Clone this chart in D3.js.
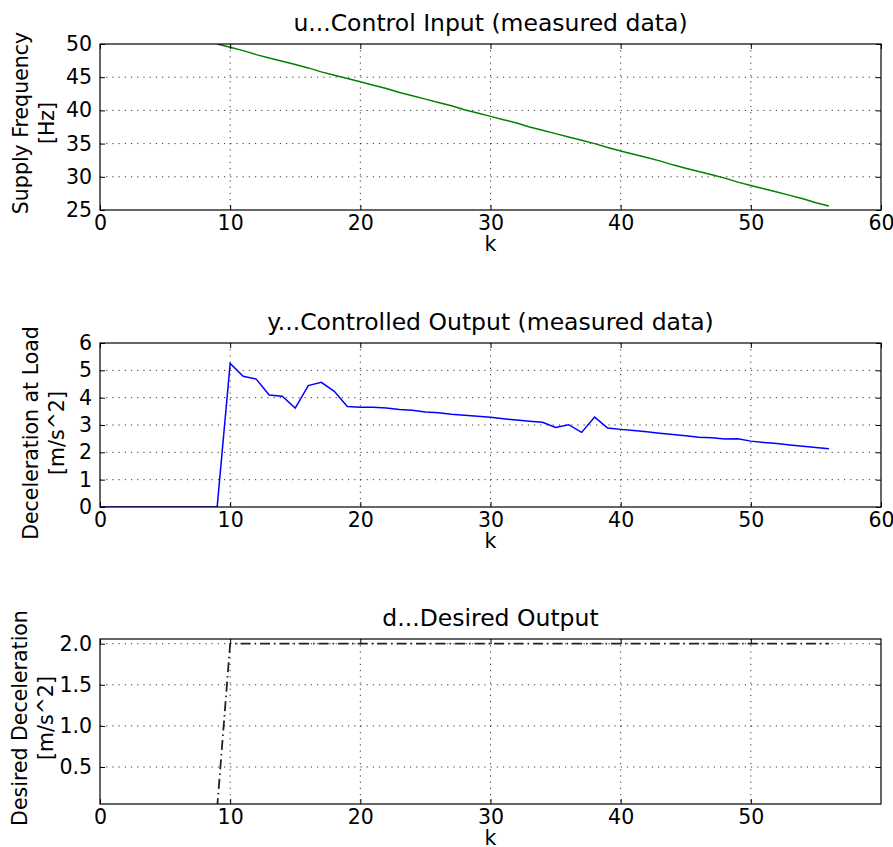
<!DOCTYPE html>
<html>
<head>
<meta charset="utf-8">
<script src="https://cdn.jsdelivr.net/npm/d3@7"></script>
<style>
  body { margin: 0; background: #fff; }
  svg text { font-family: "DejaVu Sans", sans-serif; fill: #000; }
</style>
</head>
<body>
<svg id="chart" width="893" height="847"></svg>
<script>
// k index of the measured samples
var kInput = d3.range(9, 57);
var kOutput = d3.range(0, 57);

// u ... supply frequency [Hz]
var supplyFreq = [50.0, 49.5, 49.0, 48.4, 47.9, 47.4, 46.9, 46.4, 45.8, 45.3,
  44.8, 44.3, 43.8, 43.3, 42.7, 42.2, 41.7, 41.2, 40.7, 40.1,
  39.6, 39.1, 38.6, 38.1, 37.5, 37.0, 36.5, 36.0, 35.5, 35.0,
  34.4, 33.9, 33.4, 32.9, 32.4, 31.8, 31.3, 30.8, 30.3, 29.8,
  29.2, 28.7, 28.2, 27.7, 27.2, 26.7, 26.1, 25.6];

// y ... measured deceleration at load [m/s^2]
var decelLoad = [0, 0, 0, 0, 0, 0, 0, 0, 0, 0,
  5.25, 4.78, 4.68, 4.10, 4.05, 3.62, 4.44, 4.56, 4.23, 3.68,
  3.65, 3.65, 3.62, 3.57, 3.54, 3.48, 3.45, 3.39, 3.36, 3.32,
  3.28, 3.23, 3.18, 3.14, 3.10, 2.91, 3.01, 2.73, 3.29, 2.89,
  2.84, 2.80, 2.75, 2.70, 2.65, 2.61, 2.55, 2.53, 2.49, 2.50,
  2.41, 2.36, 2.32, 2.27, 2.22, 2.18, 2.13];

// d ... desired deceleration [m/s^2]
var decelDesired = [0, 0, 0, 0, 0, 0, 0, 0, 0, 0,
  2, 2, 2, 2, 2, 2, 2, 2, 2, 2,
  2, 2, 2, 2, 2, 2, 2, 2, 2, 2,
  2, 2, 2, 2, 2, 2, 2, 2, 2, 2,
  2, 2, 2, 2, 2, 2, 2, 2, 2, 2,
  2, 2, 2, 2, 2, 2, 2];

var titles = ["u...Control Input (measured data)",
  "y...Controlled Output (measured data)",
  "d...Desired Output"];
var yLabels = [["Supply Frequency", "[Hz]"],
  ["Deceleration at Load", "[m/s^2]"],
  ["Desired Deceleration", "[m/s^2]"]];
var xTicksFull = [0, 10, 20, 30, 40, 50, 60];
var xTicksShort = [0, 10, 20, 30, 40, 50];
var yTicksU = [25, 30, 35, 40, 45, 50];
var yTicksY = [0, 1, 2, 3, 4, 5, 6];
var yTicksD = [0.5, 1.0, 1.5, 2.0];

var svg = d3.select("#chart");
var left = 100, right = 881;
var fontSize = 20.5;

function drawPanel(p) {
  var x = d3.scaleLinear().domain([0, 60]).range([left, right]);
  var y = d3.scaleLinear().domain(p.yDomain).range([p.bottom, p.top]);
  var g = svg.append("g");

  // clip for the line
  g.append("clipPath").attr("id", "clip" + p.id)
    .append("rect")
    .attr("x", left).attr("y", p.top)
    .attr("width", right - left).attr("height", p.bottom - p.top);

  // dotted grid
  g.append("g").selectAll("line").data(p.xTicks.filter(function (t) { return t > 0 && t < 60; }))
    .enter().append("line")
    .attr("x1", function (d) { return x(d); }).attr("x2", function (d) { return x(d); })
    .attr("y1", p.top).attr("y2", p.bottom)
    .attr("stroke", "#000").attr("stroke-width", 0.8).attr("stroke-dasharray", "1.2,5");
  g.append("g").selectAll("line").data(p.yTicks.filter(function (t) { return t > p.yDomain[0] && t < p.yDomain[1] - 0.01 || p.gridTop && t == p.yDomain[1]; }))
    .enter().append("line")
    .attr("y1", function (d) { return y(d); }).attr("y2", function (d) { return y(d); })
    .attr("x1", left).attr("x2", right)
    .attr("stroke", "#000").attr("stroke-width", 0.8).attr("stroke-dasharray", "1.2,5");

  // data line
  var line = d3.line()
    .x(function (d, i) { return x(p.k[i]); })
    .y(function (d) { return y(d); });
  g.append("path").datum(p.values)
    .attr("clip-path", "url(#clip" + p.id + ")")
    .attr("d", line)
    .attr("fill", "none")
    .attr("stroke", p.color)
    .attr("stroke-width", p.width || 1.5)
    .attr("stroke-dasharray", p.dash || null);

  // axes with inward ticks on all four sides
  var fmt = p.yFormat || d3.format("d");
  g.append("g").attr("transform", "translate(0," + p.bottom + ")")
    .call(d3.axisBottom(x).tickValues(p.xTicks).tickSizeInner(-5).tickSizeOuter(0).tickPadding(5).tickFormat(d3.format("d")));
  g.append("g").attr("transform", "translate(0," + p.top + ")")
    .call(d3.axisTop(x).tickValues(p.xTicks).tickSizeInner(-5).tickSizeOuter(0).tickFormat(""));
  g.append("g").attr("transform", "translate(" + left + ",0)")
    .call(d3.axisLeft(y).tickValues(p.yTicks).tickSizeInner(-5).tickSizeOuter(0).tickPadding(8).tickFormat(fmt));
  g.append("g").attr("transform", "translate(" + right + ",0)")
    .call(d3.axisRight(y).tickValues(p.yTicks).tickSizeInner(-5).tickSizeOuter(0).tickFormat(""));
  g.selectAll(".domain").remove();
  g.selectAll(".tick line").attr("stroke", "#000").attr("stroke-width", 1);
  g.selectAll(".tick text").style("font-size", fontSize + "px").attr("fill", "#000");

  // frame
  g.append("rect")
    .attr("x", left).attr("y", p.top)
    .attr("width", right - left).attr("height", p.bottom - p.top)
    .attr("fill", "none").attr("stroke", "#000").attr("stroke-width", 1.2);

  // title
  g.append("text")
    .attr("x", (left + right) / 2).attr("y", p.top - 13)
    .attr("text-anchor", "middle")
    .style("font-size", "23.5px")
    .text(p.title);

  // x label
  g.append("text")
    .attr("x", (left + right) / 2).attr("y", p.bottom + 41)
    .attr("text-anchor", "middle")
    .style("font-size", fontSize + "px")
    .text("k");

  // two-line y label
  p.yLabel.forEach(function (s, i) {
    var bx = p.labelX + i * 26;
    g.append("text")
      .attr("transform", "translate(" + bx + "," + p.labelY + ") rotate(-90)")
      .attr("text-anchor", "middle")
      .style("font-size", fontSize + "px")
      .text(s);
  });
}

drawPanel({ id: 1, top: 44, bottom: 210, yDomain: [25, 50], yTicks: yTicksU,
  xTicks: xTicksFull, k: kInput, values: supplyFreq, color: "#008000",
  title: titles[0], yLabel: yLabels[0], labelX: 27.5, labelY: 123 });
drawPanel({ id: 2, top: 343, bottom: 507, yDomain: [0, 6], yTicks: yTicksY,
  xTicks: xTicksFull, k: kOutput, values: decelLoad, color: "#0000ff",
  title: titles[1], yLabel: yLabels[1], labelX: 37.5, labelY: 433 });
drawPanel({ id: 3, top: 639, bottom: 804, yDomain: [0.05, 2.057], yTicks: yTicksD,
  xTicks: xTicksShort, k: kOutput, values: decelDesired, color: "#222",
  width: 1.8, dash: "10,4,1.5,4", gridTop: true, yFormat: d3.format(".1f"),
  title: titles[2], yLabel: yLabels[2], labelX: 26.5, labelY: 718 });
</script>
</body>
</html>
